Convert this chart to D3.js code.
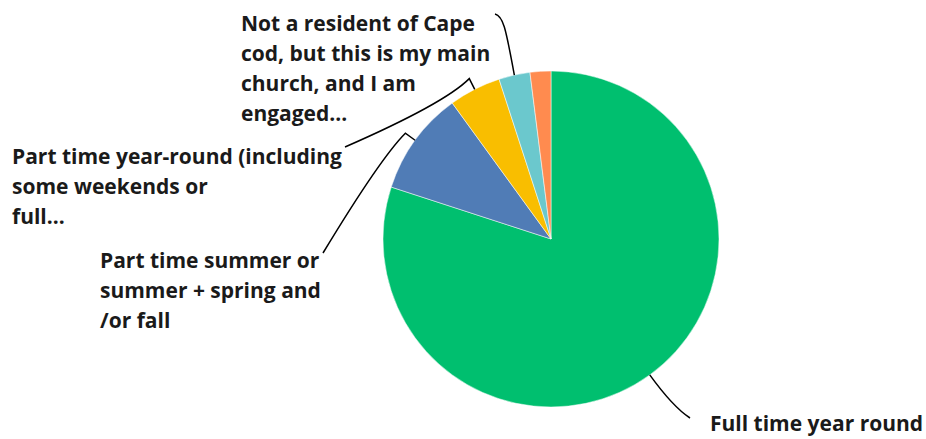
<!DOCTYPE html>
<html>
<head>
<meta charset="utf-8">
<script src="https://cdn.jsdelivr.net/npm/d3@7"></script>
<style>
  html, body { margin: 0; padding: 0; background: #fff; }
  svg text { font-family: "Open Sans", Roboto, sans-serif; font-weight: 700; fill: #1a1a1a; }
</style>
</head>
<body>
<svg id="chart" width="926" height="439"></svg>
<script>
// données
const categories = [
  "Full time year round",
  "Part time summer or summer + spring and /or fall",
  "Part time year-round (including some weekends or full...",
  "Not a resident of Cape cod, but this is my main church, and I am engaged...",
  "Other"
];
const values = [80, 10, 5, 3, 2];
const colors = ["#00bf6f", "#507cb6", "#f9be00", "#6bc8cd", "#ff8b4f"];
// texte des étiquettes, découpé en lignes (vide = pas d'étiquette)
const labelLines = [
  ["Full time year round"],
  ["Part time summer or", "summer + spring and", "/or fall"],
  ["Part time year-round (including", "some weekends or", "full..."],
  ["Not a resident of Cape", "cod, but this is my main", "church, and I am", "engaged..."],
  []
];

const svg = d3.select("#chart");
const cx = 551, cy = 239, radius = 168;
const lineH = 30;

// position des étiquettes et point d'arrivée des lignes de rappel
const labelLayout = [
  { x: 710, y: 431, end: [690, 418] },
  { x: 100, y: 268, end: [323, 253] },
  { x: 12,  y: 164, end: [345, 147] },
  { x: 241, y: 31,  end: [495, 14] },
  null
];

const pie = d3.pie().sort(null).value(d => d);
const arcs = pie(values);
const arc = d3.arc().innerRadius(0).outerRadius(radius);

const g = svg.append("g").attr("transform", `translate(${cx},${cy})`);

g.selectAll("path.slice")
  .data(arcs)
  .enter().append("path")
  .attr("class", "slice")
  .attr("d", arc)
  .attr("fill", (d, i) => colors[i])
  .attr("stroke", "#fff")
  .attr("stroke-width", 0.5);

// point sur le cercle pour un angle donné
function polar(a, r) {
  return [cx + r * Math.sin(a), cy - r * Math.cos(a)];
}

// lignes de rappel
arcs.forEach((d, i) => {
  const lay = labelLayout[i];
  if (!lay) return;
  const mid = (d.startAngle + d.endAngle) / 2;
  const p0 = polar(mid, radius);
  const p1 = polar(mid, radius + 12);
  const e = lay.end;
  const path = d3.path();
  path.moveTo(p0[0], p0[1]);
  if (i === 0) {
    const ctrl = polar(mid, radius + 40);
    path.quadraticCurveTo(ctrl[0], ctrl[1], e[0], e[1]);
  } else if (i === 3) {
    const ctrl = polar(mid, radius + 50);
    path.bezierCurveTo(ctrl[0] + 2, ctrl[1], e[0] + 8, e[1] + 2, e[0], e[1]);
  } else {
    path.lineTo(p1[0], p1[1]);
    path.quadraticCurveTo(p1[0] - 25, p1[1] + 25, e[0], e[1]);
  }
  svg.append("path")
    .attr("d", path.toString())
    .attr("fill", "none")
    .attr("stroke", "#000")
    .attr("stroke-width", 1.5);
});

// étiquettes
labelLines.forEach((lines, i) => {
  const lay = labelLayout[i];
  if (!lay) return;
  const t = svg.append("text")
    .attr("x", lay.x)
    .attr("y", lay.y)
    .style("font-size", "21px");
  lines.forEach((l, j) => {
    t.append("tspan")
      .attr("x", lay.x)
      .attr("dy", j === 0 ? 0 : lineH)
      .text(l);
  });
});
</script>
</body>
</html>
